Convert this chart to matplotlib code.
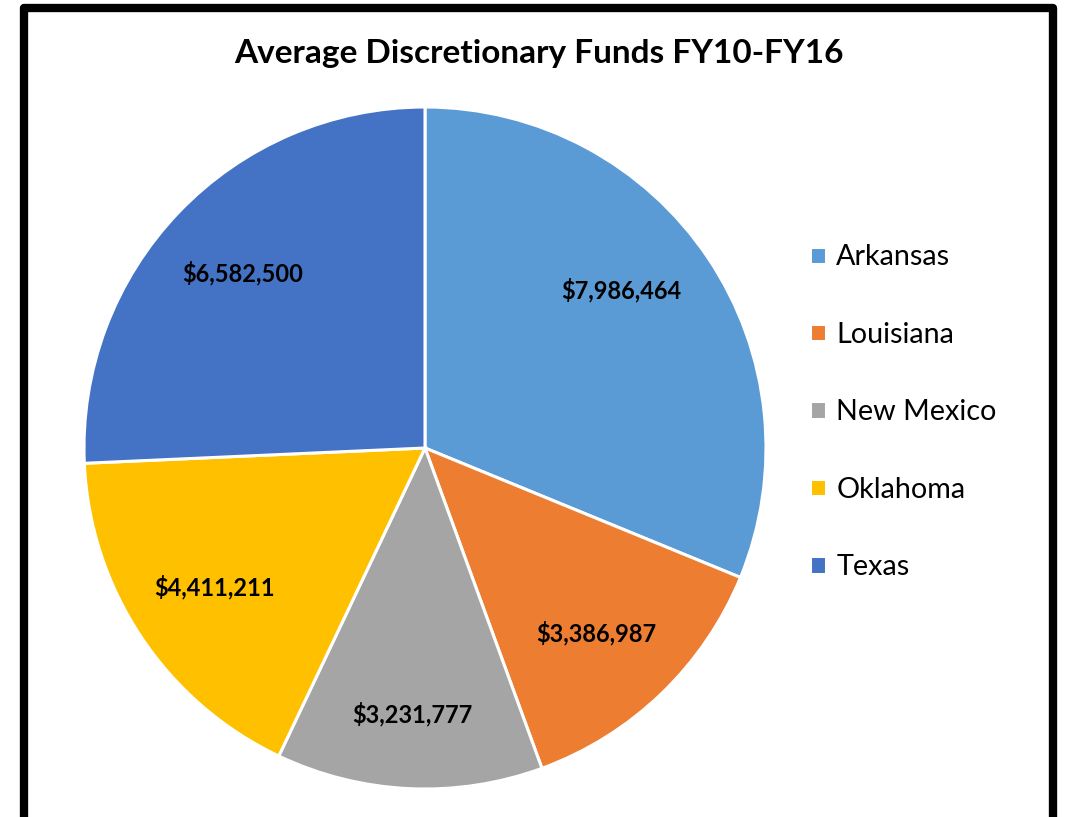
import matplotlib
matplotlib.use("Agg")
import numpy as np
import matplotlib.pyplot as plt
from matplotlib.patches import Rectangle

plt.rcParams['font.family'] = ['Lato', 'DejaVu Sans']

states = ["Arkansas", "Louisiana", "New Mexico", "Oklahoma", "Texas"]
funds = [7986464, 3386987, 3231777, 4411211, 6582500]
colors = ["#5B9BD5", "#ED7D31", "#A5A5A5", "#FFC000", "#4472C4"]
title = "Average Discretionary Funds FY10-FY16"

W, H = 1066, 817
fig = plt.figure(figsize=(W / 100, H / 100), dpi=100)

cx, cy, r = 425, 448, 341
ax = fig.add_axes([(cx - r) / W, (H - cy - r) / H, 2 * r / W, 2 * r / H])
wedges, texts = ax.pie(
    funds, colors=colors, startangle=90, counterclock=False,
    labels=[f"${v:,.0f}" for v in funds], labeldistance=0.74,
    wedgeprops=dict(edgecolor="white", linewidth=2.2),
    textprops=dict(fontsize=17, fontweight="bold", color="black"),
)
# Excel "best fit" label placement: small radial/angular nudges
label_r = [0.74, 0.74, 0.78, 0.74, 0.74]
label_da = [5, -1, 0, 0, 0]
for w, t, lr, da in zip(wedges, texts, label_r, label_da):
    ang = np.deg2rad((w.theta1 + w.theta2) / 2 + da)
    t.set_position((lr * np.cos(ang), lr * np.sin(ang)))
    t.set_horizontalalignment("center")
    t.set_verticalalignment("center")
ax.set_xlim(-1, 1)
ax.set_ylim(-1, 1)

fig.text(539 / W, 1 - 54 / H, title, ha="center", va="center",
         fontsize=24, fontweight="bold")

fig.legend(wedges, states, loc="upper left",
           bbox_to_anchor=(796 / W, 1 - 230 / H), frameon=False,
           fontsize=20.7, handlelength=0.55, handleheight=0.55,
           handletextpad=0.35, labelspacing=1.79, borderpad=0)

border = Rectangle((23.5 / W, -2 / H), (1053 - 23.5) / W, (819 - 7.5) / H,
                   transform=fig.transFigure, fill=False, edgecolor="black",
                   linewidth=6, joinstyle="round", clip_on=False)
fig.add_artist(border)

fig.savefig("out.png", dpi=100)
